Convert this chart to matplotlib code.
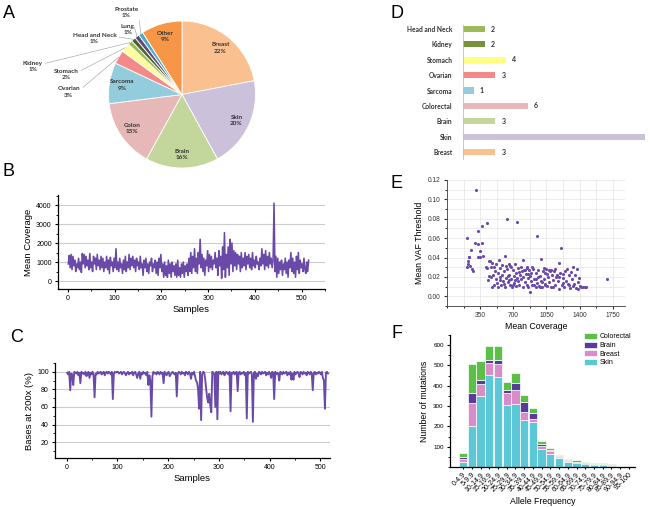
import matplotlib
matplotlib.use("Agg")
import numpy as np
import matplotlib.pyplot as plt
from matplotlib.ticker import MultipleLocator

plt.rcParams["font.family"] = ["Liberation Sans", "DejaVu Sans"]

W, H = 650, 507
PURPLE = "#6A4AA8"

# --- A: tumour types (pie) ---
pie_labels = ["Breast", "Skin", "Brain", "Colon", "Sarcoma", "Ovarian", "Stomach",
              "Kidney", "Head and Neck", "Lung", "Prostate", "Other"]
pie_pct = [22, 20, 16, 15, 9, 3, 2, 1, 1, 1, 1, 9]
pie_colors = ["#FAC090", "#CCC1DA", "#C3D69B", "#E6B9B8", "#93CDDD", "#F4898A", "#FFFF99",
              "#9BBB59", "#4F6228", "#604A7B", "#4BACC6", "#F79646"]

# --- D: counts per tumour type ---
d_labels = ["Breast", "Skin", "Brain", "Colorectal", "Sarcoma", "Ovarian", "Stomach",
            "Kidney", "Head and Neck"]
d_values = [3, 17, 3, 6, 1, 3, 4, 2, 2]
d_colors = ["#FAC090", "#CCC1DA", "#C3D69B", "#E6B9B8", "#93CDDD", "#F4898A", "#FFFF80",
            "#76923C", "#9BBB59"]

# --- B: mean coverage per sample (every other sample) ---
cov_values = [
    900, 1350, 700, 1400, 600, 1300, 800, 1100, 500, 900,
    700, 1200, 600, 1000, 450, 1450, 900, 1400, 700, 1300,
    800, 1100, 600, 1450, 700, 1000, 500, 1300, 900, 1200,
    600, 1400, 800, 1100, 600, 1300, 700, 1200, 500, 1000,
    700, 1300, 600, 1100, 400, 1250, 800, 1000, 500, 1200,
    700, 1700, 600, 1000, 500, 1200, 700, 900, 400, 1100,
    600, 1300, 500, 1000, 700, 1400, 600, 1200, 800, 1300,
    700, 1100, 500, 1200, 800, 1000, 600, 1300, 700, 900,
    300, 1100, 700, 1200, 500, 900, 400, 1000, 800, 1200,
    500, 900, 700, 1100, 400, 1000, 300, 1200, 700, 1400,
    500, 900, 200, 1000, 300, 800, 200, 1100, 400, 900,
    200, 1000, 500, 800, 300, 900, 200, 1100, 300, 700,
    200, 900, 400, 1000, 200, 800, 500, 900, 300, 1200,
    500, 1500, 400, 1300, 700, 1700, 500, 1200, 400, 1500,
    900, 2200, 700, 1400, 500, 1200, 300, 1100, 800, 1600,
    500, 1400, 700, 1300, 600, 1100, 900, 1500, 700, 1200,
    300, 1600, 800, 1300, 150, 1800, 600, 2550, 200, 1400,
    700, 1800, 300, 2200, 900, 2000, 500, 1600, 800, 1500,
    600, 1400, 900, 1300, 500, 1500, 700, 1200, 800, 1500,
    600, 1300, 900, 1400, 700, 1200, 600, 1500, 800, 1100,
    700, 1300, 900, 1000, 600, 1200, 800, 1700, 900, 1400,
    600, 1600, 800, 1300, 700, 1500, 900, 1200, 700, 1100,
    4100, 500, 1300, 200, 1200, 400, 1000, 600, 1100, 300,
    900, 600, 1200, 400, 1000, 200, 1100, 700, 1500, 500,
    1200, 400, 1000, 200, 1300, 600, 1500, 400, 1100, 700,
    900, 500, 1200, 600, 400, 1000, 500, 1100,
]

# --- C: % bases at 200x per sample (every other sample) ---
pct200_values = [
    99, 97, 100, 79, 98, 97, 85, 100, 99, 98,
    100, 96, 99, 87, 100, 98, 99, 97, 100, 95,
    98, 100, 93, 99, 97, 100, 96, 71, 98, 97,
    100, 98, 99, 100, 97, 99, 100, 96, 99, 100,
    98, 100, 99, 97, 100, 69, 98, 100, 99, 100,
    100, 98, 99, 100, 97, 99, 100, 98, 96, 99,
    100, 97, 99, 98, 100, 96, 99, 100, 97, 93,
    98, 100, 92, 99, 97, 100, 98, 99, 96, 100,
    85, 96, 90, 49, 95, 100, 98, 99, 97, 100,
    99, 97, 100, 98, 99, 87, 100, 98, 96, 99,
    100, 95, 97, 99, 100, 98, 97, 99, 72, 98,
    100, 99, 97, 100, 98, 99, 96, 100, 99, 97,
    100, 98, 92, 99, 97, 100, 95, 90, 88, 80,
    58, 100, 45, 97, 100, 99, 92, 80, 70, 65,
    75, 62, 54, 100, 99, 97, 60, 100, 46, 100,
    98, 100, 97, 99, 100, 96, 99, 100, 98, 97,
    100, 55, 99, 98, 100, 97, 99, 100, 78, 99,
    100, 97, 99, 98, 100, 96, 99, 47, 100, 98,
    99, 100, 97, 43, 99, 100, 92, 98, 95, 100,
    99, 97, 100, 98, 99, 100, 96, 99, 97, 100,
    98, 93, 100, 99, 69, 100, 97, 99, 98, 90,
    100, 99, 97, 100, 98, 99, 100, 96, 99, 97,
    100, 91, 98, 91, 100, 97, 99, 100, 98, 94,
    100, 99, 97, 100, 98, 99, 96, 100, 99, 97,
    100, 98, 79, 99, 100, 97, 99, 98, 100, 99,
    97, 100, 93, 90, 58, 99, 100, 98,
]

# --- E: mean coverage vs mean VAF threshold ---
vaf_cov = [
    215, 233, 215, 220, 225, 251, 279, 297, 311, 332, 368, 421, 332, 368, 347, 332, 345, 233, 240, 260, 380, 440,
    634, 736, 953, 1208, 1686, 616, 988, 1179,
    410, 420, 430, 445, 450, 460, 470, 480, 490, 500, 510, 520, 530, 540, 550, 555, 560, 570, 580, 590,
    605, 610, 620, 630, 645, 650, 660, 665, 670, 680, 690, 700, 705, 710, 720, 725, 730, 745, 750, 760,
    770, 780, 790, 800, 805, 810, 820, 830, 840, 850, 855, 860, 870, 880, 885, 890, 900, 910, 920, 935,
    940, 950, 960, 970, 980, 990, 1005, 1010, 1020, 1030, 1040, 1050, 1060, 1070, 1080, 1090, 1100, 1110, 1120, 1130,
    1140, 1150, 1170, 1180, 1190, 1210, 1220, 1230, 1240, 1260, 1270, 1280, 1290, 1300, 1310, 1320, 1330, 1340, 1350, 1360,
    1370, 1380, 1390, 1400, 1420, 1440, 1460, 1470,
    500, 520, 560, 600, 640, 680, 720, 760, 800, 840, 880, 920, 960, 1000, 1040, 1080, 1120, 1160, 1250, 1330,
    1380, 460, 540, 580, 620, 660, 700, 740, 780, 820, 860, 900, 940, 980, 1020, 1060, 1100, 1140, 1180, 1230, 1290,
]
vaf_thr = [
    .060, .041, .030, .036, .033, .048, .026, .055, .110, .067, .073, .076, .054, .055, .047, .041, .041, .041, .031, .028, .042, .036,
    .080, .077, .062, .050, .018, .042, .039, .034,
    .030, .029, .017, .021, .036, .020, .034, .010, .022, .030, .026, .018, .014, .024, .037, .017, .020, .012, .032, .016,
    .026, .010, .019, .028, .015, .033, .022, .012, .031, .018, .010, .027, .014, .021, .033, .011, .024, .016, .029, .012,
    .022, .018, .026, .037, .010, .027, .015, .023, .012, .029, .019, .010, .027, .004, .016, .024, .012, .028, .018, .010,
    .024, .014, .027, .011, .021, .016, .010, .026, .018, .012, .024, .028, .011, .020, .015, .026, .010, .022, .017, .026,
    .012, .020, .016, .008, .024, .012, .019, .023, .010, .016, .028, .013, .022, .009, .025, .018, .030, .013, .022, .009,
    .028, .015, .019, .011, .010, .010, .010, .010,
    .012, .033, .029, .013, .021, .030, .017, .025, .020, .030, .021, .012, .020, .015, .013, .027, .010, .022, .026, .011,
    .008, .030, .010, .022, .031, .017, .012, .019, .030, .027, .023, .030, .018, .010, .029, .023, .027, .028, .020, .014, .012,
]

# --- F: mutations per allele-frequency bin ---
af_bins = ["0-4.9", "5-9.9", "10-14.9", "15-19.9", "20-24.9", "25-29.9", "30-34.9",
           "35-39.9", "40-44.9", "45-49.9", "50-54.9", "55-59.9", "60-64.9", "65-69.9",
           "70-74.9", "75-79.9", "80-84.9", "85-89.9", "90-94.9", "95-100"]
f_skin = [26, 202, 352, 451, 441, 303, 310, 231, 222, 90, 65, 42, 25, 20, 14, 8, 8, 5, 1, 1]
f_breast = [15, 111, 59, 62, 65, 63, 69, 39, 14, 14, 12, 5, 3, 2, 2, 2, 3, 2, 2, 1]
f_brain = [10, 49, 17, 13, 20, 13, 36, 50, 31, 8, 8, 6, 5, 5, 5, 5, 6, 5, 1, 2]
f_colorectal = [19, 146, 92, 69, 69, 39, 46, 36, 25, 18, 10, 6, 5, 7, 5, 5, 3, 3, 1, 1]


def fig_rect(left, top, right, bottom):
    """Axes rectangle from pixel edges of the reference image."""
    return [left / W, 1 - bottom / H, (right - left) / W, (bottom - top) / H]


fig = plt.figure(figsize=(W / 100, H / 100), dpi=100)

# panel letters
for letter, (px, py) in {"A": (9, 14), "B": (9, 172), "C": (17, 338),
                         "D": (397, 14), "E": (397, 183), "F": (397, 334)}.items():
    fig.text(px / W, 1 - py / H, letter, fontsize=13, ha="center", va="center")

# ---------------- A ----------------
axA = fig.add_axes(fig_rect(108, 21, 256, 168))
wedges, _ = axA.pie(pie_pct, colors=pie_colors, startangle=90, counterclock=False,
                    wedgeprops=dict(edgecolor="white", linewidth=0.6))
axA.set_xlim(-1, 1)
axA.set_ylim(-1, 1)
leader_pos = {"Prostate": (-0.76, 1.12), "Lung": (-0.74, 0.885), "Head and Neck": (-1.19, 0.757),
              "Kidney": (-2.03, 0.385), "Stomach": (-1.58, 0.277), "Ovarian": (-1.54, 0.034)}
lab_kw = dict(fontsize=4.6, fontweight="bold", family=["Lato", "DejaVu Sans"], color="#333333",
              ha="center", va="center", linespacing=1.3)
for w, lab, pct in zip(wedges, pie_labels, pie_pct):
    ang = np.deg2rad((w.theta1 + w.theta2) / 2)
    if lab in leader_pos:
        axA.annotate(f"{lab}\n{pct}%", xy=(np.cos(ang), np.sin(ang)), xytext=leader_pos[lab],
                     annotation_clip=False,
                     arrowprops=dict(arrowstyle="-", color="#9A9A9A", lw=0.4, shrinkA=0, shrinkB=0,
                                     relpos=(1.0, 0.7)),
                     **lab_kw)
    else:
        axA.text(0.82 * np.cos(ang), 0.82 * np.sin(ang), f"{lab}\n{pct}%", **lab_kw)

# ---------------- D ----------------
axD = fig.add_axes(fig_rect(463, 25, 645, 159))
yd = np.arange(len(d_labels))
axD.barh(yd, d_values, height=0.4, color=d_colors)
axD.set_xlim(0, 16.85)
axD.set_ylim(-0.45, 8.26)
for yi, v in zip(yd, d_values):
    if v + 1 < axD.get_xlim()[1]:  # the Skin value label falls outside the panel
        axD.text(v + 0.55, yi, str(v), va="center", ha="left", fontsize=5, fontweight="bold",
                 family=["Lato", "DejaVu Sans"], color="#333333")
axD.set_yticks(yd, d_labels, fontsize=4.8, fontweight="bold", family=["Lato", "DejaVu Sans"],
               color="#333333")
axD.tick_params(left=False, bottom=False, labelbottom=False, pad=4)
for s in ["top", "right", "bottom"]:
    axD.spines[s].set_visible(False)
axD.spines["left"].set_color("#BFBFBF")
axD.spines["left"].set_linewidth(0.6)


def origin_style(ax):
    for s in ["top", "right"]:
        ax.spines[s].set_visible(False)
    for s in ["left", "bottom"]:
        ax.spines[s].set_linewidth(0.9)
    ax.tick_params(which="major", direction="out", length=2.5, width=0.8, labelsize=5, pad=2)
    ax.tick_params(which="minor", direction="out", length=1.4, width=0.6)


# ---------------- B ----------------
axB = fig.add_axes(fig_rect(58, 195, 325, 289))
cov_samples = np.arange(1, 2 * len(cov_values), 2)
axB.plot(cov_samples, cov_values, color=PURPLE, lw=1.15)
axB.set_xlim(-21, 550)
axB.set_ylim(-420, 4530)
axB.xaxis.set_major_locator(MultipleLocator(100))
axB.xaxis.set_minor_locator(MultipleLocator(50))
axB.set_yticks([0, 1000, 2000, 3000, 4000])
axB.yaxis.set_minor_locator(MultipleLocator(500))
axB.grid(axis="y", color="#CCCCCC", lw=0.8)
axB.set_axisbelow(True)
origin_style(axB)
axB.set_xlabel("Samples", fontsize=6.8, labelpad=2)
axB.set_ylabel("Mean Coverage", fontsize=6.8, labelpad=2)

# ---------------- C ----------------
axC = fig.add_axes(fig_rect(55, 363, 330, 458))
pct_samples = np.arange(1, 2 * len(pct200_values), 2)
axC.plot(pct_samples, pct200_values, color=PURPLE, lw=1.35)
axC.set_xlim(-23, 519)
axC.set_ylim(2, 110)
axC.xaxis.set_major_locator(MultipleLocator(100))
axC.xaxis.set_minor_locator(MultipleLocator(50))
axC.set_yticks([20, 40, 60, 80, 100])
axC.yaxis.set_minor_locator(MultipleLocator(10))
axC.grid(axis="y", color="#CCCCCC", lw=0.8)
axC.set_axisbelow(True)
origin_style(axC)
axC.set_xlabel("Samples", fontsize=6.8, labelpad=2)
axC.set_ylabel("Bases at 200x (%)", fontsize=6.8, labelpad=2)

# ---------------- E ----------------
axE = fig.add_axes(fig_rect(447, 180, 625, 306))
axE.scatter(vaf_cov, vaf_thr, s=5, color=PURPLE, linewidths=0, zorder=3)
axE.set_xlim(0, 1880)
axE.set_ylim(-0.01, 0.12)
axE.set_xticks([350, 700, 1050, 1400, 1750])
axE.xaxis.set_minor_locator(MultipleLocator(175))
axE.set_yticks(np.arange(0, 0.121, 0.02))
axE.yaxis.set_minor_locator(MultipleLocator(0.01))
axE.yaxis.set_major_formatter(plt.FormatStrFormatter("%.2f"))
axE.grid(which="both", color="#E4E4E4", lw=0.5)
axE.set_axisbelow(True)
origin_style(axE)
for s in ["left", "bottom"]:
    axE.spines[s].set_color("#555555")
    axE.spines[s].set_linewidth(0.7)
axE.tick_params(labelsize=4.8, colors="#333333")
axE.set_xlabel("Mean Coverage", fontsize=6.3, labelpad=2)
axE.set_ylabel("Mean VAF Threshold", fontsize=6.3, labelpad=3)

# ---------------- F ----------------
axF = fig.add_axes(fig_rect(450, 335, 635, 467))
xf = np.arange(len(af_bins))
bottom = np.zeros(len(af_bins))
handles = []
for vals, col, lab in [(f_skin, "#5CC8D7", "Skin"), (f_breast, "#D88CC9", "Breast"),
                       (f_brain, "#5A3A9C", "Brain"), (f_colorectal, "#5CBF48", "Colorectal")]:
    h = axF.bar(xf, vals, bottom=bottom, width=0.95, color=col, edgecolor="white",
                linewidth=0.5, label=lab)
    handles.append(h)
    bottom += np.array(vals)
axF.set_xlim(-1.5, 19.7)
axF.set_ylim(0, 650)
axF.set_yticks([100, 200, 300, 400, 500, 600])
axF.yaxis.set_minor_locator(MultipleLocator(50))
axF.set_xticks(xf, af_bins, rotation=45, ha="right", rotation_mode="anchor", fontsize=2.8)
origin_style(axF)
axF.tick_params(axis="y", labelsize=4.5)
axF.tick_params(axis="x", which="major", length=1.5, pad=1.5)
axF.set_xlabel("Allele Frequency", fontsize=6.3, labelpad=3)
axF.set_ylabel("Number of mutations", fontsize=6.3, labelpad=3)
axF.legend(handles[::-1], [h.get_label() for h in handles[::-1]],
           loc="upper left", bbox_to_anchor=(584 / W, 1 - 333 / H), bbox_transform=fig.transFigure,
           frameon=False, fontsize=5, handlelength=1.9, handleheight=1.0, handletextpad=0.3,
           labelspacing=0.15, borderpad=0, borderaxespad=0)

fig.savefig("out.png", dpi=100)
